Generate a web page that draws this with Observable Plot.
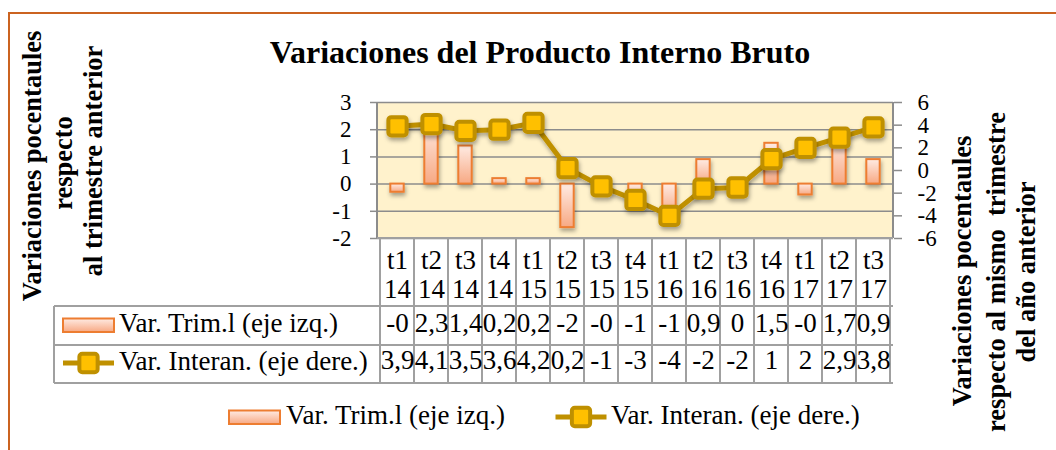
<!DOCTYPE html>
<html>
<head>
<meta charset="utf-8">
<script src="https://cdn.jsdelivr.net/npm/d3@7"></script>
<script src="https://cdn.jsdelivr.net/npm/@observablehq/plot@0.6"></script>
<style>
  html, body { margin: 0; padding: 0; background: #fff; }
  svg { display: block; }
</style>
</head>
<body>
<div id="chart"></div>
<script>
// ---------- data ----------
const quarters = ["t1","t2","t3","t4","t1","t2","t3","t4","t1","t2","t3","t4","t1","t2","t3"];
const years    = ["14","14","14","14","15","15","15","15","16","16","16","16","17","17","17"];
const trimValues  = [-0.3, 2.3, 1.4, 0.2, 0.2, -1.6, -0.2, -0.7, -1.1, 0.9, 0.0, 1.5, -0.4, 1.7, 0.9];
const interValues = [3.9, 4.1, 3.5, 3.6, 4.2, 0.2, -1.4, -2.6, -4.0, -1.6, -1.5, 1.0, 2.0, 2.9, 3.8];
const trimLabels  = ["-0","2,3","1,4","0,2","0,2","-2","-0","-1","-1","0,9","0","1,5","-0","1,7","0,9"];
const interLabels = ["3,9","4,1","3,5","3,6","4,2","0,2","-1","-3","-4","-2","-2","1","2","2,9","3,8"];
const leftTicks  = [-2, -1, 0, 1, 2, 3];
const rightTicks = [-6, -4, -2, 0, 2, 4, 6];
const seriesNames = ["Var. Trim.l (eje izq.)", "Var. Interan. (eje dere.)"];
const titleText = "Variaciones del Producto Interno Bruto";
const leftTitle  = ["Variaciones pocentaules", "respecto", "al trimestre anterior"];
const rightTitle = ["Variaciones pocentaules", "respecto al mismo  trimestre", "del año anterior"];

const cats = quarters.map((q, i) => q + "\n" + years[i]);
const data = cats.map((c, i) => ({
  cat: c, trim: trimValues[i], inter: interValues[i],
  trimLabel: trimLabels[i], interLabel: interLabels[i]
}));

const L = [leftTicks[0], leftTicks[leftTicks.length - 1]];
const R = [rightTicks[0], rightTicks[rightTicks.length - 1]];
const toLeft = v => L[0] + (v - R[0]) * (L[1] - L[0]) / (R[1] - R[0]);
const fromLeft = y => R[0] + (y - L[0]) * (R[1] - R[0]) / (L[1] - L[0]);

const FONT = "'Liberation Serif', 'Times New Roman', serif";
const BAR_STROKE = "#ED7D31";
const LINE_COLOR = "#BF9000";
const MARK_FILL = "#FFC000";
const GRID = "#8C8C8C";
const TABLE_LINE = "#A0A0A0";
const TFS = 27;

// rounded square symbol
const roundSquare = {
  draw(ctx, size) {
    const s = Math.sqrt(size) / 2, r = s * 0.32;
    ctx.moveTo(-s + r, -s);
    ctx.arcTo(s, -s, s, s, r);
    ctx.arcTo(s, s, -s, s, r);
    ctx.arcTo(-s, s, -s, -s, r);
    ctx.arcTo(-s, -s, s, -s, r);
    ctx.closePath();
  }
};
const MARK_R = 10.3;

function defs() {
  const g = d3.create("svg:defs");
  const lg = g.append("linearGradient").attr("id", "barGrad")
    .attr("x1", 0).attr("y1", 0).attr("x2", 0).attr("y2", 1);
  lg.append("stop").attr("offset", "0%").attr("stop-color", "#FFEBE3");
  lg.append("stop").attr("offset", "100%").attr("stop-color", "#F7A984");
  const f = g.append("filter").attr("id", "shadow")
    .attr("x", "-50%").attr("y", "-50%").attr("width", "200%").attr("height", "200%");
  f.append("feDropShadow").attr("dx", 1).attr("dy", 3).attr("stdDeviation", 2)
    .attr("flood-color", "#000").attr("flood-opacity", 0.35);
  return g.node();
}

function markerPath() {
  const p = d3.path();
  roundSquare.draw(p, MARK_R * MARK_R * Math.PI);
  return p.toString();
}

function decorations(index, scales, values, dims) {
  const {width, height, marginLeft, marginRight, marginTop, marginBottom} = dims;
  const left = marginLeft, right = width - marginRight, top = marginTop, bottom = height - marginBottom;
  const x = scales.x;
  const bw = (x && x.bandwidth) ? x.bandwidth() : (right - left) / cats.length;
  const starts = cats.map((c, i) => (x && x.bandwidth) ? x(c) : left + i * bw);
  const g = d3.create("svg:g").attr("text-anchor", "start");

  // outer orange frame
  g.append("rect").attr("x", 9).attr("y", 13).attr("width", width + 40).attr("height", height + 40)
    .attr("fill", "none").attr("stroke", "#CB6320").attr("stroke-width", 2);

  // plot area side lines
  g.append("line").attr("x1", left).attr("x2", left).attr("y1", top).attr("y2", bottom)
    .attr("stroke", GRID).attr("stroke-width", 2);
  g.append("line").attr("x1", right).attr("x2", right).attr("y1", top).attr("y2", bottom)
    .attr("stroke", GRID).attr("stroke-width", 2);

  // data table grid
  const tLeft = 54, r1 = 306, r2 = 345, r3 = 383;
  const tl = g.append("g").attr("stroke", TABLE_LINE).attr("stroke-width", 2).attr("fill", "none");
  tl.append("line").attr("x1", left).attr("x2", right).attr("y1", bottom).attr("y2", bottom);
  for (const yy of [r1, r2, r3]) tl.append("line").attr("x1", tLeft).attr("x2", right).attr("y1", yy).attr("y2", yy);
  tl.append("line").attr("x1", tLeft).attr("x2", tLeft).attr("y1", r1).attr("y2", r3);
  const bounds = starts.concat([starts[starts.length - 1] + bw]);
  for (const bx of bounds) tl.append("line").attr("x1", bx).attr("x2", bx).attr("y1", bottom).attr("y2", r3);

  // legend keys
  const keyBar = (gx, gy) => {
    g.append("rect").attr("x", gx).attr("y", gy - 6.5).attr("width", 51).attr("height", 13.5)
      .attr("fill", "url(#barGrad)").attr("stroke", BAR_STROKE).attr("stroke-width", 2);
  };
  const keyLine = (cx, cy) => {
    g.append("line").attr("x1", cx - 25.5).attr("x2", cx + 25.5).attr("y1", cy).attr("y2", cy)
      .attr("stroke", LINE_COLOR).attr("stroke-width", 5);
    g.append("path").attr("d", markerPath()).attr("transform", `translate(${cx},${cy})`)
      .attr("fill", MARK_FILL).attr("stroke", LINE_COLOR).attr("stroke-width", 4);
  };
  const label = (tx, ty, s) => {
    g.append("text").attr("x", tx).attr("y", ty).attr("dy", "0.33em").attr("font-size", TFS)
      .attr("text-anchor", "start")
      .attr("font-family", FONT).attr("fill", "#000").text(s);
  };
  keyBar(63, 325); label(119, 323, seriesNames[0]);
  keyLine(88.5, 363); label(119, 361, seriesNames[1]);

  // bottom legend
  keyBar(229, 417); label(286, 415, seriesNames[0]);
  keyLine(581, 417); label(611, 415, seriesNames[1]);

  // main title
  g.append("text").attr("x", 540).attr("y", 52).attr("dy", "0.33em").attr("text-anchor", "middle")
    .attr("font-family", FONT).attr("font-weight", "bold").attr("font-size", 32).attr("fill", "#000")
    .text(titleText);

  // axis titles (rotated)
  const vt = (cx, cy, s) => {
    g.append("text").attr("transform", `translate(${cx},${cy}) rotate(-90)`)
      .attr("text-anchor", "middle").attr("dy", "0.33em").style("white-space", "pre")
      .attr("font-family", FONT).attr("font-weight", "bold").attr("font-size", 26.5).attr("fill", "#000")
      .text(s);
  };
  vt(32, 166, leftTitle[0]); vt(63, 163, leftTitle[1]); vt(93, 161, leftTitle[2]);
  vt(962, 271, rightTitle[0]); vt(996, 272, rightTitle[1]); vt(1026, 272, rightTitle[2]);

  return g.node();
}

const plot = Plot.plot({
  width: 1056, height: 450,
  marginLeft: 377, marginRight: 163, marginTop: 102, marginBottom: 212,
  style: {fontFamily: FONT, fontSize: "23px", color: "#000", background: "#fff", overflow: "visible"},
  x: {type: "band", domain: cats, padding: 0, axis: null},
  y: {domain: L, axis: null},
  marks: [
    defs,
    Plot.frame({fill: "#FFF2CC", stroke: "none"}),
    Plot.ruleY(leftTicks, {stroke: GRID, strokeWidth: 1.5}),
    Plot.barY(data, {x: "cat", y: "trim", fill: "url(#barGrad)", stroke: BAR_STROKE, strokeWidth: 2,
      insetLeft: 10.3, insetRight: 10.3}),
    Plot.lineY(data, {x: "cat", y: d => toLeft(d.inter), stroke: LINE_COLOR, strokeWidth: 5}),
    Plot.dot(data, {x: "cat", y: d => toLeft(d.inter), symbol: roundSquare, r: MARK_R,
      fill: MARK_FILL, stroke: LINE_COLOR, strokeWidth: 4}),
    Plot.axisY(leftTicks, {anchor: "left", tickSize: 7, tickPadding: 19, stroke: GRID, strokeWidth: 1.5,
      label: null, tickFormat: d => String(d), fontSize: 23}),
    Plot.axisY(rightTicks.map(toLeft), {anchor: "right", tickSize: 8, tickPadding: 16, stroke: GRID, strokeWidth: 1.5,
      label: null, tickFormat: d => String(Math.round(fromLeft(d))), fontSize: 23}),
    decorations,
    Plot.text(data, {x: "cat", text: "cat", frameAnchor: "bottom", dy: 36, lineAnchor: "middle",
      lineHeight: 1.04, fontSize: TFS, fill: "#000"}),
    Plot.text(data, {x: "cat", text: "trimLabel", frameAnchor: "bottom", dy: 85, lineAnchor: "middle",
      fontSize: TFS, fill: "#000"}),
    Plot.text(data, {x: "cat", text: "interLabel", frameAnchor: "bottom", dy: 122, lineAnchor: "middle",
      fontSize: TFS, fill: "#000"})
  ]
});

d3.select(plot).selectAll('g[aria-label="bar"], g[aria-label="line"], g[aria-label="dot"]')
  .attr("filter", "url(#shadow)");

document.getElementById("chart").appendChild(plot);
</script>
</body>
</html>
